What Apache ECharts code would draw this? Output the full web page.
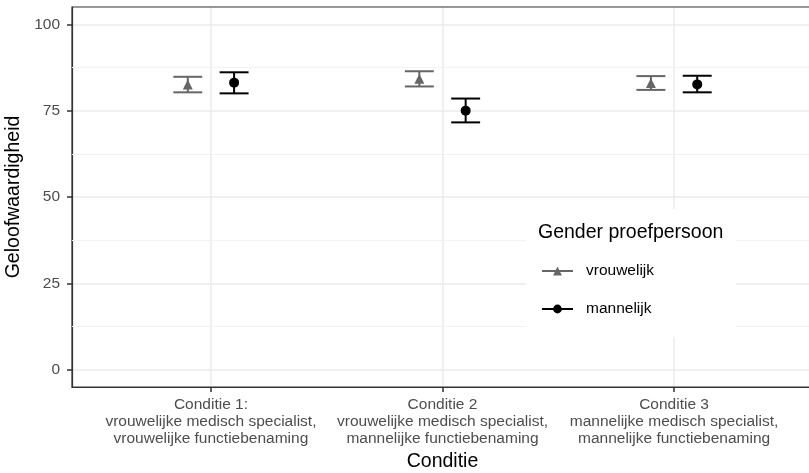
<!DOCTYPE html>
<html><head><meta charset="utf-8">
<script src="https://cdn.jsdelivr.net/npm/echarts@6/dist/echarts.min.js"></script>
<style>html,body{margin:0;padding:0;background:#fff}#c{width:809px;height:473px}</style>
</head><body><div id="c"></div>
<script>
const conditions = [
  'Conditie 1:\nvrouwelijke medisch specialist,\nvrouwelijke functiebenaming',
  'Conditie 2\nvrouwelijke medisch specialist,\nmannelijke functiebenaming',
  'Conditie 3\nmannelijke medisch specialist,\nmannelijke functiebenaming'
];
const groupNames = ['vrouwelijk', 'mannelijk'];
const vrouwMean = [82.6, 84.2, 83.0];
const vrouwLow  = [80.3, 82.0, 81.0];
const vrouwHigh = [84.8, 86.4, 85.0];
const mannMean  = [83.1, 75.0, 82.6];
const mannLow   = [80.0, 71.6, 80.3];
const mannHigh  = [86.1, 78.5, 85.1];
const yTicks = [0, 25, 50, 75, 100];
const yMinor = [12.5, 37.5, 62.5, 87.5];
const xTicks = [1, 2, 3];

const FONT = '"Liberation Sans", Arial, Helvetica, sans-serif';
const GREY = '#666666';
const BLACK = '#000000';
const DODGE = 0.1;
const CAP = 0.0625;

function pointData(means, off) {
  const d = [];
  means.forEach((m, i) => {
    if (i > 0) d.push([i + 0.5, '-']);
    d.push([i + 1 + off, m]);
  });
  return d;
}
function pointSeries(name, color, symbol, means, off) {
  return {
    type: 'line', name, z: 5, silent: true, animation: false,
    symbol, symbolSize: 10, showSymbol: true, connectNulls: false,
    itemStyle: { color }, lineStyle: { color, width: 2 },
    data: pointData(means, off)
  };
}
function errSeries(name, color, lows, highs, off) {
  return {
    type: 'custom', name, z: 4, silent: true, animation: false,
    renderItem: (params, api) => {
      const x = api.value(0), lo = api.value(1), hi = api.value(2);
      const pLo = api.coord([x, lo]), pHi = api.coord([x, hi]);
      const hw = api.size([CAP, 0])[0];
      const style = { stroke: color, lineWidth: 2 };
      return { type: 'group', children: [
        { type: 'line', shape: { x1: pLo[0], y1: pLo[1], x2: pHi[0], y2: pHi[1] }, style },
        { type: 'line', shape: { x1: pLo[0] - hw, y1: pLo[1], x2: pLo[0] + hw, y2: pLo[1] }, style },
        { type: 'line', shape: { x1: pHi[0] - hw, y1: pHi[1], x2: pHi[0] + hw, y2: pHi[1] }, style }
      ]};
    },
    encode: { x: 0, y: [1, 2] },
    data: lows.map((l, i) => [i + 1 + off, l, highs[i]])
  };
}

const chart = echarts.init(document.getElementById('c'), null, { renderer: 'canvas' });
chart.setOption({
  animation: false,
  backgroundColor: '#ffffff',
  textStyle: { fontFamily: FONT },
  grid: { left: 72, top: 7, right: -4, bottom: 86, outerBoundsMode: 'none', containLabel: false,
    show: true, borderColor: '#333333', borderWidth: 1.2, backgroundColor: 'transparent', z: 3 },
  xAxis: {
    type: 'value', min: 0.4, max: 3.6, z: 2,
    axisLine: { show: true, onZero: false, lineStyle: { color: '#333333', width: 1.2 } },
    axisTick: { show: true, inside: false, customValues: xTicks, length: 5, lineStyle: { color: '#333333', width: 1.5 } },
    axisLabel: { customValues: xTicks, formatter: v => conditions[Math.round(v) - 1], fontSize: 15.5, color: '#4d4d4d', lineHeight: 17, margin: 9, fontFamily: FONT },
    splitLine: { show: true, lineStyle: { color: '#ebebeb', width: 1.5 } },
    name: 'Conditie', nameLocation: 'middle', nameGap: 62,
    nameTextStyle: { fontSize: 19.5, color: '#000', fontFamily: FONT }
  },
  yAxis: {
    type: 'value', min: -5, max: 105, z: 2,
    axisLine: { show: true, onZero: false, lineStyle: { color: '#333333', width: 1.2 } },
    axisTick: { show: true, inside: false, customValues: yTicks, length: 5, lineStyle: { color: '#333333', width: 1.5 } },
    axisLabel: { customValues: yTicks, fontSize: 15.5, color: '#4d4d4d', margin: 12, fontFamily: FONT },
    splitLine: { show: true, lineStyle: { color: '#ebebeb', width: 1.5 } },
    name: 'Geloofwaardigheid', nameLocation: 'middle', nameGap: 40, nameRotate: 90,
    nameTextStyle: { fontSize: 19.5, color: '#000', fontFamily: FONT }
  },
  legend: {
    data: groupNames, orient: 'vertical', left: 541, top: 262, z: 200, padding: 0,
    itemWidth: 31, itemHeight: 11, itemGap: 20, selectedMode: false,
    textStyle: { fontSize: 15.5, color: '#000', lineHeight: 18, padding: [0, 0, 0, 8], fontFamily: FONT }
  },
  graphic: [
    { type: 'rect', z: 100, silent: true, shape: { x: 526, y: 209, width: 210, height: 128 }, style: { fill: '#ffffff' } },
    { type: 'text', z: 101, silent: true, x: 538, y: 233, style: { text: 'Gender proefpersoon', font: '19.5px ' + FONT, fill: '#000', verticalAlign: 'middle' } }
  ],
  series: [
    pointSeries(groupNames[0], GREY, 'triangle', vrouwMean, -DODGE),
    pointSeries(groupNames[1], BLACK, 'circle', mannMean, DODGE),
    errSeries(groupNames[0], GREY, vrouwLow, vrouwHigh, -DODGE),
    errSeries(groupNames[1], BLACK, mannLow, mannHigh, DODGE),
    {
      type: 'line', name: 'minor', z: 1, silent: true, data: [],
      markLine: { silent: true, symbol: ['none', 'none'], label: { show: false }, animation: false,
        lineStyle: { color: '#f3f3f3', width: 1, type: 'solid' },
        data: yMinor.map(v => ({ yAxis: v })) }
    }
  ]
});
</script></body></html>
